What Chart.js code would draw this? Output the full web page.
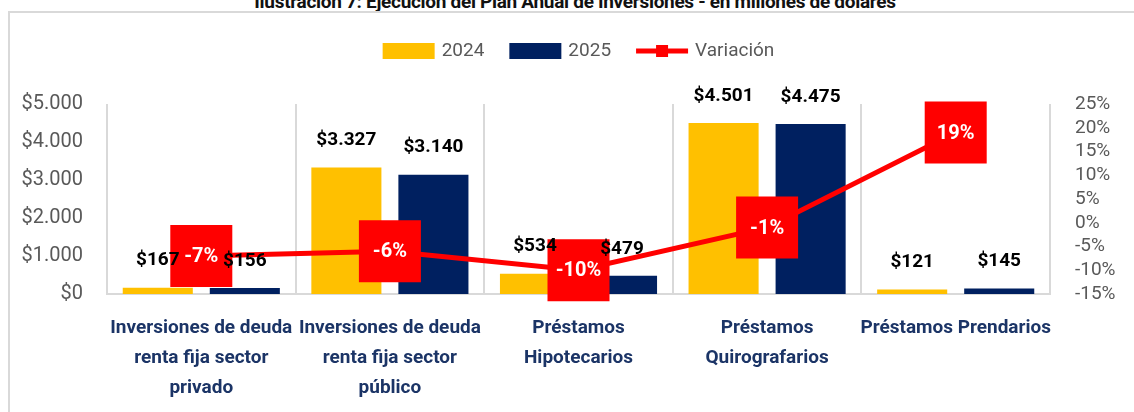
<!DOCTYPE html>
<html>
<head>
<meta charset="utf-8">
<script src="https://cdn.jsdelivr.net/npm/chart.js@4.4.1/dist/chart.umd.min.js"></script>
<style>
  body { margin: 0; background: #fff; overflow: hidden; }
  #wrap { position: relative; width: 1134px; height: 412px; overflow: hidden; }
  #title {
    position: absolute; left: 0; width: 1150px; top: -10px; text-align: center;
    font: bold 19px Roboto, sans-serif; color: #111; letter-spacing: -0.3px;
  }
  #frame { position: absolute; left: 8px; top: 11px; width: 1200px; height: 500px; border: 2px solid #d9d9d9; }
  #chart { position: absolute; left: 0; top: 0; }
</style>
</head>
<body>
<div id="wrap">
  <div id="title">Ilustración 7: Ejecución del Plan Anual de Inversiones - en millones de dólares</div>
  <div id="frame"></div>
  <canvas id="chart" width="1134" height="412"></canvas>
</div>
<script>
const categories = [
  ["Inversiones de deuda", "renta fija sector", "privado"],
  ["Inversiones de deuda", "renta fija sector", "público"],
  ["Préstamos", "Hipotecarios"],
  ["Préstamos", "Quirografarios"],
  ["Préstamos Prendarios"]
];
const values2024 = [167, 3327, 534, 4501, 121];
const values2025 = [156, 3140, 479, 4475, 145];
const variacion = [-7, -6, -10, -1, 19];

const FONT = 'Roboto, sans-serif';
const YELLOW = '#FFC000';
const NAVY = '#002060';
const RED = '#FF0000';

function miles(n) {
  return String(n).replace(/\B(?=(\d{3})+(?!\d))/g, '.');
}

// labels on bars + red boxes on the line, and the legend
const labelsPlugin = {
  id: 'labels',
  afterDatasetsDraw(chart) {
    const ctx = chart.ctx;
    ctx.save();
    ctx.textAlign = 'center';
    ctx.textBaseline = 'middle';

    // line boxes first, bar labels go on top
    const lineMeta = chart.getDatasetMeta(2);
    ctx.font = 'bold 20px ' + FONT;
    lineMeta.data.forEach((pt, i) => {
      ctx.fillStyle = RED;
      ctx.fillRect(pt.x - 31, pt.y - 31, 62, 62);
      ctx.fillStyle = '#fff';
      ctx.fillText(variacion[i] + '%', pt.x, pt.y + 1);
    });

    ctx.font = 'bold 19px ' + FONT;
    ctx.fillStyle = '#000';
    [0, 1].forEach(di => {
      const meta = chart.getDatasetMeta(di);
      const vals = chart.data.datasets[di].data;
      meta.data.forEach((bar, i) => {
        ctx.fillText('$' + miles(vals[i]), bar.x, bar.y - 27);
      });
    });
    ctx.restore();
  },
  afterDraw(chart) {
    const ctx = chart.ctx;
    const ds = chart.data.datasets;
    ctx.save();
    ctx.font = '19px ' + FONT;
    ctx.textBaseline = 'middle';
    const boxW = 52, gapText = 7, gapItem = 25;
    const widths = ds.map(d => boxW + gapText + ctx.measureText(d.label).width);
    const total = widths.reduce((a, b) => a + b, 0) + gapItem * (ds.length - 1);
    let x = (chart.chartArea.left + chart.chartArea.right) / 2 - total / 2;
    const y = 51;
    ds.forEach((d, i) => {
      if (d.type === 'line') {
        ctx.strokeStyle = RED;
        ctx.lineWidth = 5;
        ctx.beginPath();
        ctx.moveTo(x, y);
        ctx.lineTo(x + boxW, y);
        ctx.stroke();
        ctx.fillStyle = RED;
        ctx.fillRect(x + boxW / 2 - 6, y - 6, 12, 12);
      } else {
        ctx.fillStyle = d.backgroundColor;
        ctx.fillRect(x, y - 8, boxW, 16);
      }
      ctx.fillStyle = '#595959';
      ctx.fillText(d.label, x + boxW + gapText, y);
      x += widths[i] + gapItem;
    });
    ctx.restore();
  }
};

new Chart(document.getElementById('chart').getContext('2d'), {
  type: 'bar',
  data: {
    labels: categories,
    datasets: [
      { label: '2024', data: values2024, backgroundColor: YELLOW, yAxisID: 'y', order: 1,
        categoryPercentage: 0.923, barPercentage: 0.805 },
      { label: '2025', data: values2025, backgroundColor: NAVY, yAxisID: 'y', order: 1,
        categoryPercentage: 0.923, barPercentage: 0.805 },
      { type: 'line', label: 'Variación', data: variacion, yAxisID: 'y1', order: 0,
        borderColor: RED, backgroundColor: RED, borderWidth: 5,
        pointStyle: 'rect', pointRadius: 6, tension: 0 }
    ]
  },
  options: {
    responsive: false,
    animation: false,
    layout: { padding: { top: 104, left: 0, right: 0, bottom: 0 } },
    plugins: {
      legend: { display: false },
      tooltip: { enabled: false }
    },
    scales: {
      x: {
        grid: { offset: true, color: '#d9d9d9', lineWidth: 2, drawTicks: false },
        border: { color: '#d9d9d9', width: 2 },
        ticks: { color: '#1B3466', padding: 19, maxRotation: 0, autoSkip: false,
          font: { family: FONT, size: 19, weight: 'bold', lineHeight: 1.58 } },
        afterFit(s) { s.height = 118; }
      },
      y: {
        position: 'left', min: 0, max: 5000,
        grid: { display: false, drawTicks: false },
        border: { display: false },
        ticks: { stepSize: 1000, color: '#595959', padding: 24, autoSkip: false,
          font: { family: FONT, size: 20 },
          callback: v => '$' + miles(v) },
        afterFit(s) { s.width = 107; }
      },
      y1: {
        position: 'right', min: -15, max: 25,
        grid: { display: false, drawTicks: false },
        border: { display: false },
        ticks: { stepSize: 5, color: '#595959', padding: 25, autoSkip: false,
          font: { family: FONT, size: 19, lineHeight: 1 },
          callback: v => v + '%' },
        afterFit(s) { s.width = 84; }
      }
    }
  },
  plugins: [labelsPlugin]
});
</script>
</body>
</html>
